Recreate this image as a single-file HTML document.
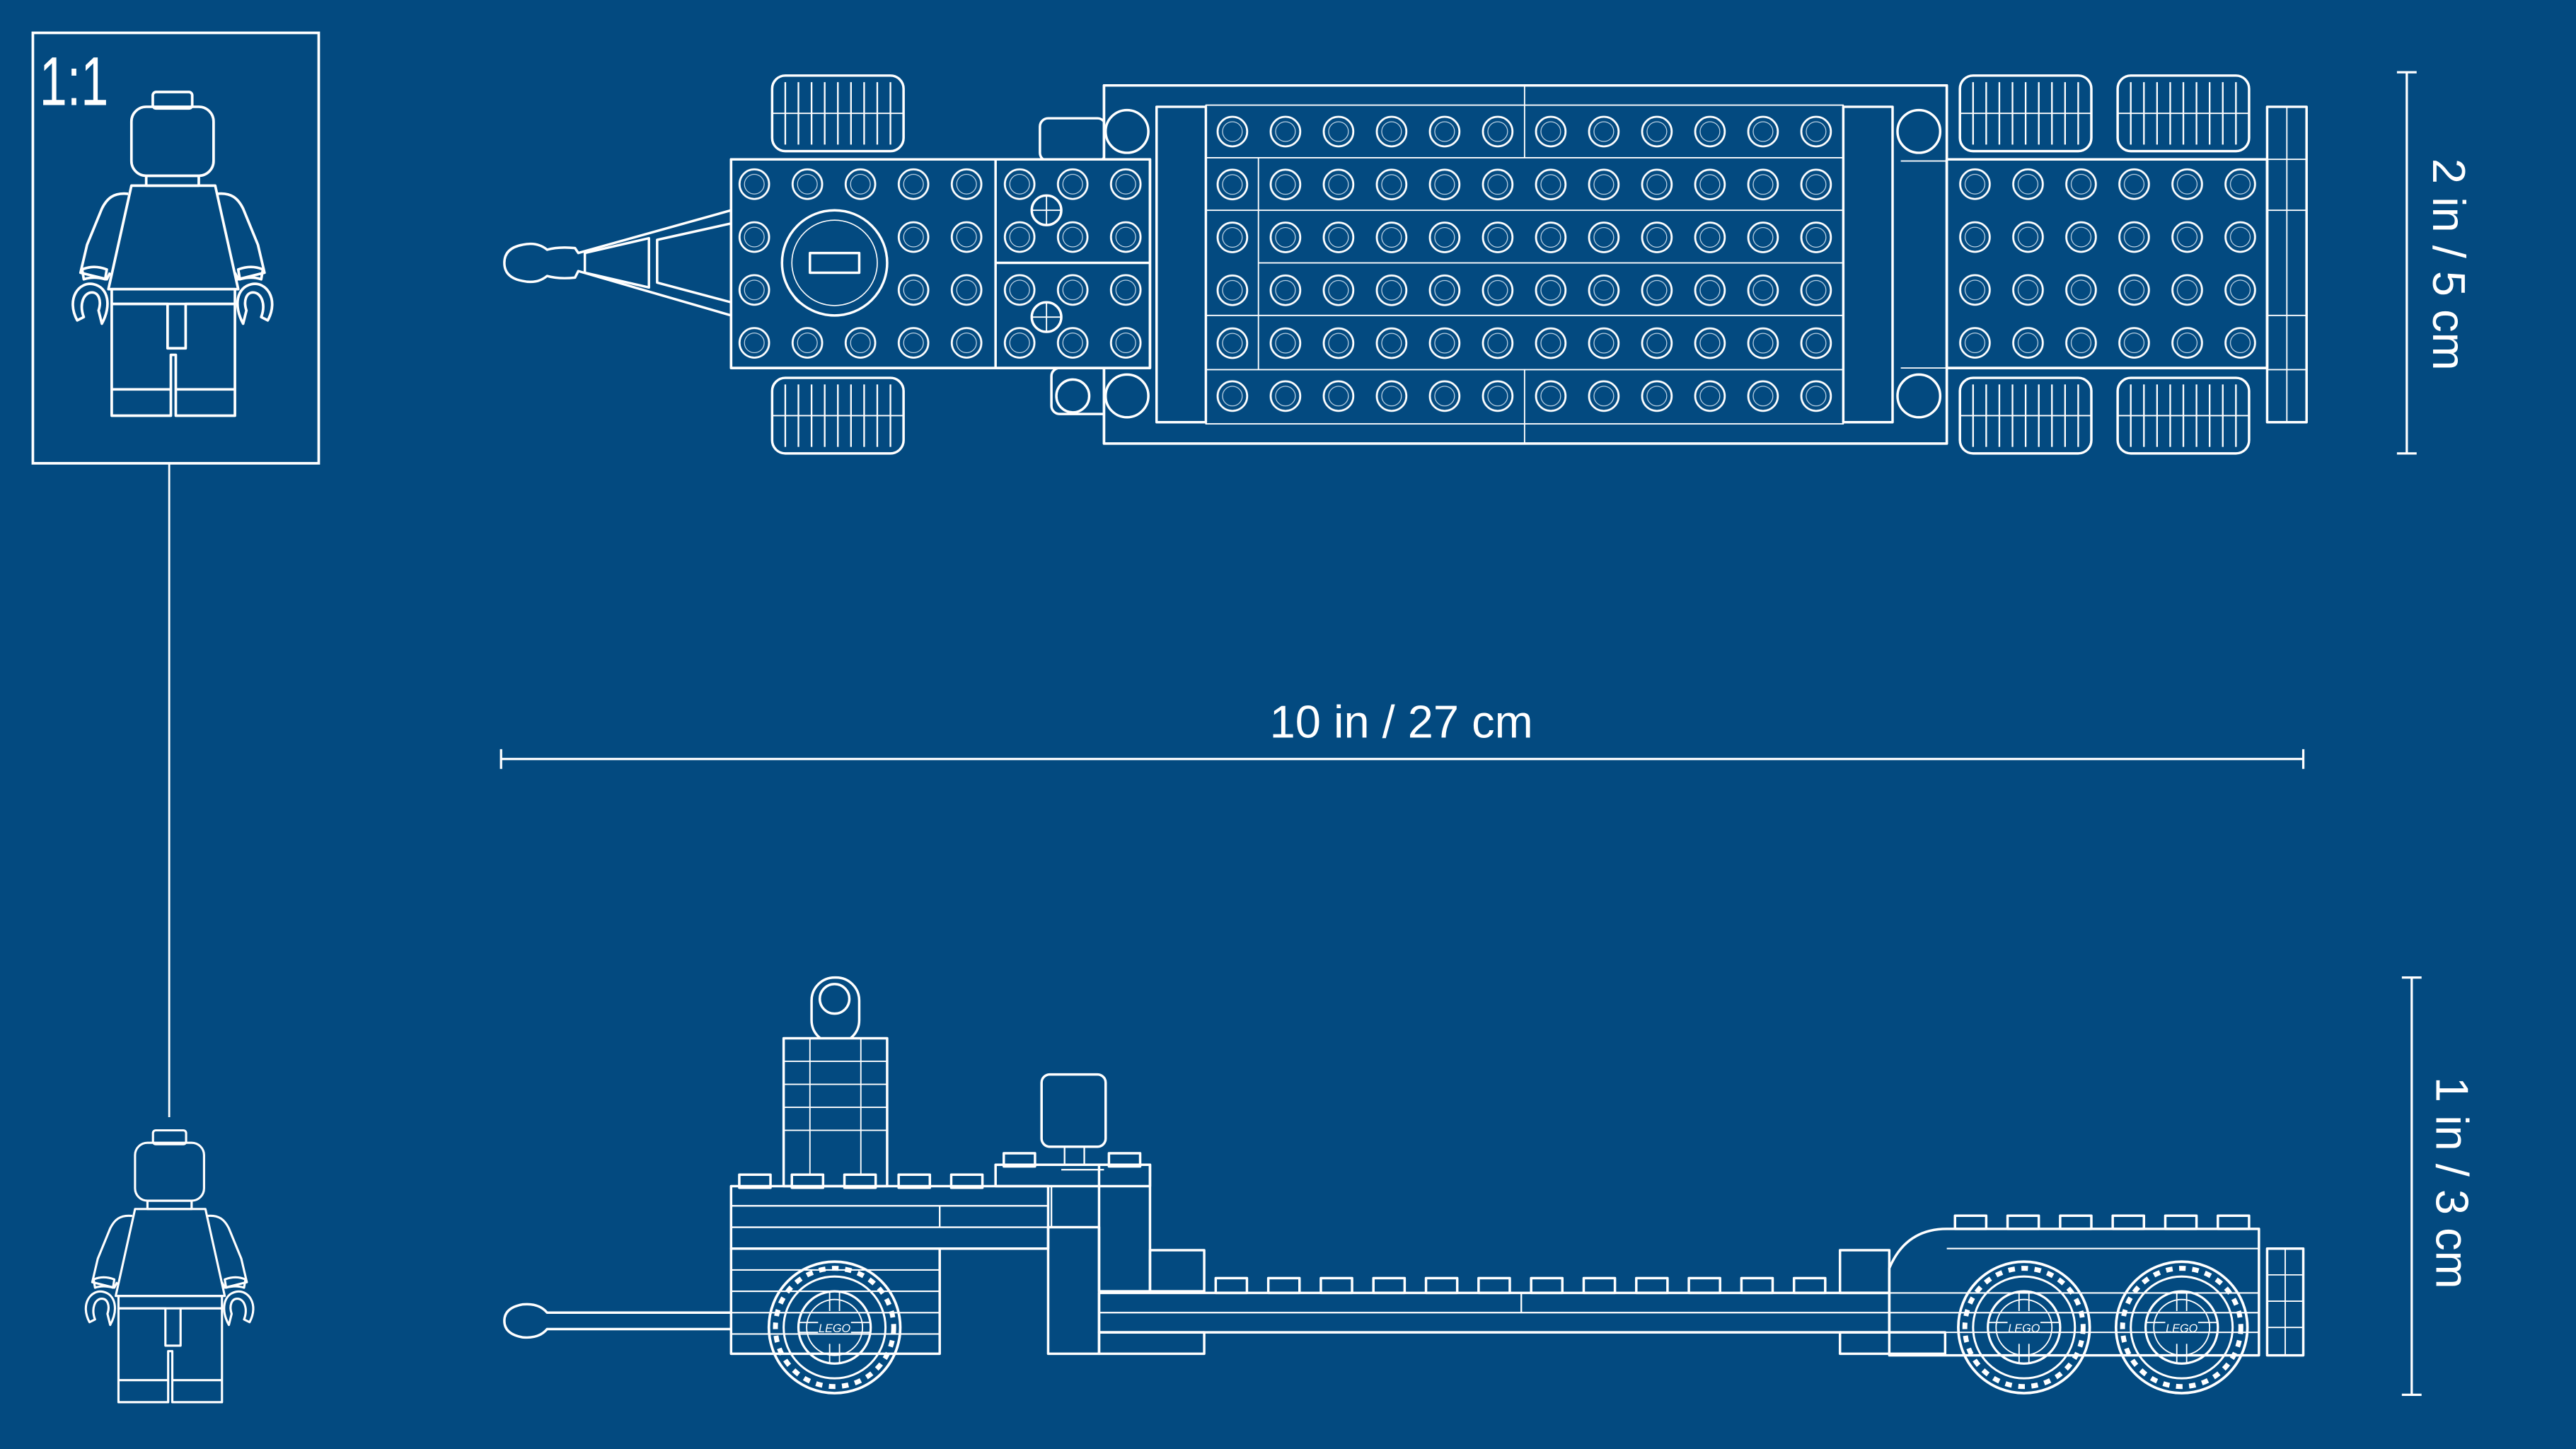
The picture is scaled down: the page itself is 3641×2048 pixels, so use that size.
<!DOCTYPE html>
<html><head><meta charset="utf-8"><style>
html,body{margin:0;padding:0;background:#034a80;}
svg{display:block;}
</style></head><body>
<svg width="3641" height="2048" viewBox="0 0 1568 882" preserveAspectRatio="none" xmlns="http://www.w3.org/2000/svg">
<defs>
<g id="studc">
<circle cx="16.15" cy="16.1" r="9" fill="none" stroke="#fff" stroke-width="1.2"/>
<circle cx="16.15" cy="16.1" r="6" fill="none" stroke="#cfe0ee" stroke-width="0.5"/>
</g>
<pattern id="studA" patternUnits="userSpaceOnUse" x="443" y="96" width="32.3" height="32.2"><use href="#studc"/></pattern>
<pattern id="studB" patternUnits="userSpaceOnUse" x="734" y="64" width="32.3" height="32.2"><use href="#studc"/></pattern>
<pattern id="studC" patternUnits="userSpaceOnUse" x="1186" y="96" width="32.3" height="32.2"><use href="#studc"/></pattern>
<g id="fig" fill="none" stroke="#fff" stroke-width="1.6" stroke-linejoin="round">
<rect x="93" y="56" width="24" height="10" rx="2"/>
<rect x="80" y="65" width="50" height="42" rx="9"/>
<rect x="89" y="107" width="32" height="6"/>
<path d="M80 113 L131 113 L145 176 L66 176 Z"/>
<path d="M78 118 C69 117 65 121 62 127 L53 149 L49 166 L65 170 L67 166"/>
<path d="M132 118 C141 117 145 121 148 127 L157 149 L161 166 L145 170 L143 166"/>
<path d="M50 164 Q57 161 65 164 L64 170 Q57 168 51 170 Z"/>
<path d="M160 164 Q153 161 145 164 L146 170 Q153 168 159 170 Z"/>
<path d="M47 195 C40 182 48 171 57 173 C66 175 68 186 62 197 L60 189 C62 183 60 178 56 178 C51 178 48 185 51 193 Z"/>
<path d="M163 195 C170 182 162 171 153 173 C144 175 142 186 148 197 L150 189 C148 183 150 178 154 178 C159 178 162 185 159 193 Z"/>
<rect x="68" y="176" width="75" height="9"/>
<path d="M68 185 L68 253 L104 253 L104 216 L107 216 L107 253 L143 253 L143 185 L113 185 L113 212 L108 212 L104 212 L102 212 L102 185 Z"/>
<line x1="68" y1="237" x2="104" y2="237"/><line x1="107" y1="237" x2="143" y2="237"/>
</g>
<g id="wtop" fill="none" stroke="#fff" stroke-width="1.5">
<rect x="0" y="0" width="80" height="46" rx="8"/>
<path d="M8 4 V42 M16 4 V42 M24 4 V42 M32 4 V42 M40 4 V42 M48 4 V42 M56 4 V42 M64 4 V42 M72 4 V42" stroke-width="1"/>
<path d="M0 23 H80" stroke-width="0.8"/>
</g>
<g id="wside" fill="none" stroke="#fff">
<circle r="40" stroke-width="1.6"/>
<circle r="36" stroke-width="3" stroke-dasharray="4 4"/>
<circle r="31" stroke-width="1.3"/>
<circle r="22" stroke-width="1.4"/>
<circle r="17" stroke-width="0.8"/>
<path d="M-3 -22 V-10 M3 -22 V-10 M-3 22 V10 M3 22 V10 M-22 -3 H-10 M-22 3 H-10 M22 -3 H10 M22 3 H10" stroke-width="0.8"/>
<text x="0" y="3" font-size="7" fill="#fff" stroke="none" text-anchor="middle" font-family="Liberation Sans, sans-serif" font-style="italic">LEGO</text>
</g>
</defs>

<rect width="1568" height="882" fill="#034a80"/>

<rect x="20" y="20" width="174" height="262" fill="none" stroke="#fff" stroke-width="1.6"/>
<text x="24" y="64" font-family="Liberation Sans Narrow, Liberation Sans, sans-serif" font-size="42" fill="#fff" transform="translate(24 0) scale(0.72 1) translate(-24 0)">1:1</text>
<use href="#fig"/>
<line x1="103" y1="282" x2="103" y2="680" stroke="#fff" stroke-width="1.2"/>
<use href="#fig" transform="translate(15 641) scale(0.84)"/>

<!-- TOP VIEW -->
<g fill="none" stroke="#fff" stroke-width="1.5" stroke-linejoin="round">
<path d="M350 151 Q340 150 333 152 Q327 147 318 149 Q307 151 307 160 Q307 169 318 171 Q327 173 333 168 Q340 170 350 169 L352 165 L445 192 L445 184 L400 172 L400 146 L445 136 L445 128 L352 154 Z"/>
<path d="M356 154 L395 145 L395 175 L356 166 Z"/>
<use href="#wtop" transform="translate(470 46)"/>
<use href="#wtop" transform="translate(470 230)"/>
<rect x="633" y="72" width="40" height="26" rx="5"/>
<rect x="640" y="224" width="40" height="28" rx="5"/>
<circle cx="653" cy="241" r="10"/>
<!-- deck -->
<rect x="672" y="52" width="513" height="218" fill="#034a80"/>
<rect x="734" y="64" width="388" height="193.2" fill="url(#studB)" stroke="none"/>
<rect x="672" y="52" width="513" height="218"/>
<rect x="734" y="64" width="388" height="194" stroke-width="0.8"/>
<path d="M734 96 H1122 M734 128 H1122 M766 160 H1122 M734 192 H1122 M734 225 H1122 M928 52 V96 M928 225 V270 M766 96 V225" stroke-width="0.8"/>
<rect x="704" y="65" width="30" height="192"/>
<rect x="1122" y="65" width="30" height="192"/>
<circle cx="686" cy="80" r="13"/><circle cx="1168" cy="80" r="13"/>
<circle cx="686" cy="241" r="13"/><circle cx="1168" cy="241" r="13"/>
<path d="M1157 98 H1185 M1157 224 H1185" stroke-width="0.8"/>
<!-- front plate (on top) -->
<rect x="445" y="97" width="255" height="127" fill="#034a80"/>
<rect x="445" y="97" width="255" height="127" fill="url(#studA)" stroke="none"/>
<rect x="445" y="97" width="255" height="127"/>
<line x1="606" y1="97" x2="606" y2="224"/>
<line x1="606" y1="160" x2="700" y2="160"/>
<circle cx="508" cy="160" r="32" fill="#034a80"/>
<circle cx="508" cy="160" r="26" stroke-width="0.7"/>
<rect x="493" y="154" width="30" height="12"/>
<circle cx="637" cy="128" r="9" fill="#034a80"/><path d="M628 128 H646 M637 119 V137" stroke-width="0.8"/>
<circle cx="637" cy="193" r="9" fill="#034a80"/><path d="M628 193 H646 M637 184 V202" stroke-width="0.8"/>
<use href="#wtop" transform="translate(1193 46)"/>
<use href="#wtop" transform="translate(1289 46)"/>
<use href="#wtop" transform="translate(1193 230)"/>
<use href="#wtop" transform="translate(1289 230)"/>
<rect x="1185" y="97" width="195" height="127" fill="#034a80"/>
<rect x="1185" y="97" width="195" height="127" fill="url(#studC)" stroke="none"/>
<rect x="1185" y="97" width="195" height="127"/>
<rect x="1380" y="65" width="24" height="192"/>
<path d="M1380 97 H1404 M1380 128 H1404 M1380 192 H1404 M1380 225 H1404 M1392 65 V257" stroke-width="0.8"/>
</g>

<g stroke="#fff" stroke-width="1.4" fill="none">
<path d="M1465 44 V276 M1459 44 H1471 M1459 276 H1471"/>
<path d="M305 462 H1402 M305 456 V468 M1402 456 V468"/>
<path d="M1468 595 V849 M1462 595 H1474 M1462 849 H1474"/>
</g>
<g fill="#fff" font-family="Liberation Sans, sans-serif" font-size="28">
<text x="853" y="449" text-anchor="middle">10 in / 27 cm</text>
<text transform="translate(1481 161) rotate(90)" text-anchor="middle">2 in / 5 cm</text>
<text transform="translate(1483 720) rotate(90)" text-anchor="middle">1 in / 3 cm</text>
</g>

<!-- SIDE VIEW -->
<g fill="none" stroke="#fff" stroke-width="1.5" stroke-linejoin="round">
<path d="M445 799 H333 Q328 793 318 794 Q307 796 307 804 Q307 812 318 814 Q328 815 333 809 H445"/>
<rect x="494" y="595" width="29" height="40" rx="14"/>
<ellipse cx="508" cy="608" rx="9" ry="9"/>
<rect x="477" y="632" width="63" height="90" fill="#034a80"/>
<path d="M477 646 H540 M477 660 H540 M477 674 H540 M477 688 H540 M493 632 V722 M524 632 V722" stroke-width="0.8"/>
<g fill="#034a80">
<rect x="450" y="715" width="19" height="8"/><rect x="482" y="715" width="19" height="8"/><rect x="514" y="715" width="19" height="8"/><rect x="547" y="715" width="19" height="8"/><rect x="579" y="715" width="19" height="8"/>
<rect x="611" y="702" width="19" height="8"/><rect x="675" y="702" width="19" height="8"/>
</g>
<rect x="445" y="722" width="193" height="38"/>
<path d="M445 734 H638 M445 747 H638 M572 734 V747" stroke-width="1"/>
<rect x="606" y="709" width="94" height="13"/>
<rect x="445" y="760" width="127" height="64"/>
<path d="M445 773 H572 M445 786 H572 M445 799 H572 M445 812 H572" stroke-width="0.9"/>
<rect x="634" y="654" width="39" height="44" rx="5"/>
<path d="M648 698 V709 M660 698 V709 M646 712 H672 M640 722 V747" stroke-width="1"/>
<rect x="638" y="747" width="31" height="77"/>
<rect x="669" y="709" width="31" height="77"/>
<rect x="700" y="761" width="33" height="25"/>
<rect x="669" y="811" width="64" height="13"/>
<use href="#wside" transform="translate(508 808)"/>
<g fill="#034a80">
<rect x="740" y="778" width="19" height="9"/><rect x="772" y="778" width="19" height="9"/><rect x="804" y="778" width="19" height="9"/><rect x="836" y="778" width="19" height="9"/><rect x="868" y="778" width="19" height="9"/><rect x="900" y="778" width="19" height="9"/><rect x="932" y="778" width="19" height="9"/><rect x="964" y="778" width="19" height="9"/><rect x="996" y="778" width="19" height="9"/><rect x="1028" y="778" width="19" height="9"/><rect x="1060" y="778" width="19" height="9"/><rect x="1092" y="778" width="19" height="9"/>
</g>
<rect x="669" y="787" width="481" height="24"/>
<path d="M669 799 H1150 M926 787 V799" stroke-width="1"/>
<rect x="1120" y="761" width="30" height="26"/>
<rect x="1120" y="811" width="64" height="13"/>
<g fill="#034a80">
<rect x="1190" y="740" width="19" height="8"/><rect x="1222" y="740" width="19" height="8"/><rect x="1254" y="740" width="19" height="8"/><rect x="1286" y="740" width="19" height="8"/><rect x="1318" y="740" width="19" height="8"/><rect x="1350" y="740" width="19" height="8"/>
</g>
<path d="M1150 787 V772 Q1160 748 1185 748 H1375 V825 H1150 Z"/>
<path d="M1185 760 H1375 M1150 787 H1375 M1150 799 H1375 M1150 811 H1375" stroke-width="0.9"/>
<use href="#wside" transform="translate(1232 808)"/>
<use href="#wside" transform="translate(1328 808)"/>
<rect x="1380" y="760" width="22" height="65"/>
<path d="M1380 776 H1402 M1380 792 H1402 M1380 808 H1402 M1391 760 V825" stroke-width="0.8"/>
</g>
</svg>
</body></html>
